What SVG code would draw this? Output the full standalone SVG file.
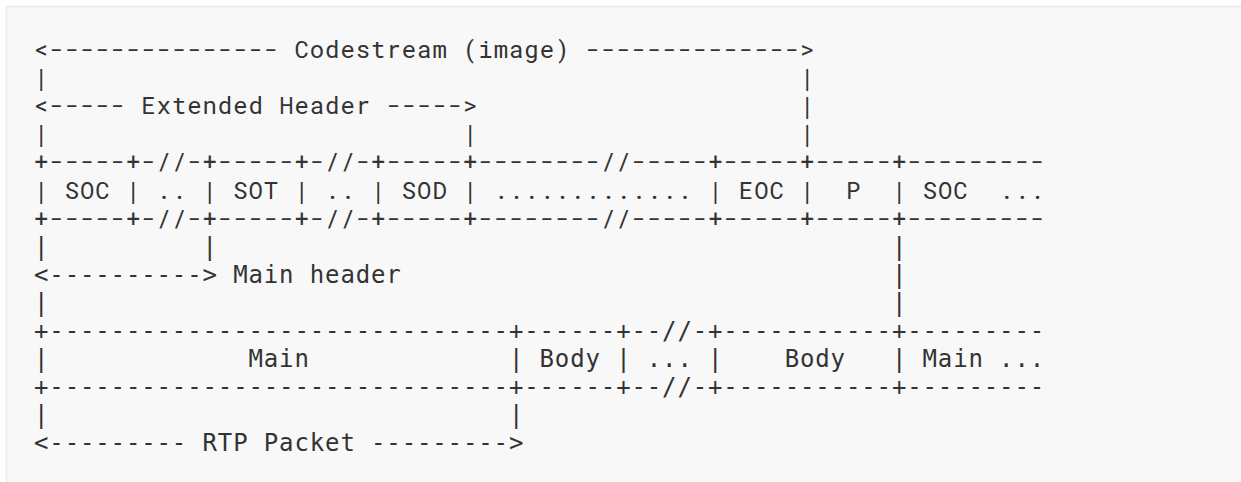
<svg xmlns="http://www.w3.org/2000/svg" width="1241" height="482" viewBox="0 0 1241 482">
  <style>
    .art { font-size: 24px; fill: #333333; white-space: pre; }
    .top { font-family: "Roboto Mono", "DejaVu Sans Mono", "Liberation Mono", monospace; letter-spacing: 0.92px; }
    .low { font-family: "DejaVu Sans Mono", "Liberation Mono", monospace; letter-spacing: 0.87px; }
  </style>
  <rect width="1241" height="482" fill="#ffffff"/>
  <rect x="6.5" y="6.5" width="1250" height="490" fill="#f8f8f8" stroke="#ececec" stroke-width="1.5"/>

  <!-- codestream layout -->
  <g id="codestream" class="art top">
    <text xml:space="preserve" x="34" y="58">&lt;--------------- Codestream (image) --------------&gt;</text>
    <text xml:space="preserve" x="34" y="86.1">|                                                 |</text>
    <text xml:space="preserve" x="34" y="114.2">&lt;----- Extended Header -----&gt;                     |</text>
    <text xml:space="preserve" x="34" y="142.3">|                           |                     |</text>
    <text xml:space="preserve" x="34" y="170.4">+-----+-//-+-----+-//-+-----+--------//-----+-----+-----+---------</text>
    <text xml:space="preserve" x="34" y="198.5">| SOC | .. | SOT | .. | SOD | ............. | EOC |  P  | SOC  ...</text>
    <text xml:space="preserve" x="34" y="226.6">+-----+-//-+-----+-//-+-----+--------//-----+-----+-----+---------</text>
  </g>

  <!-- RTP packetisation -->
  <g id="packets" class="art low">
    <text xml:space="preserve" x="34" y="254.7">|          |                                            |</text>
    <text xml:space="preserve" x="34" y="282.8">&lt;----------&gt; Main header                                |</text>
    <text xml:space="preserve" x="34" y="310.9">|                                                       |</text>
    <text xml:space="preserve" x="34" y="339">+------------------------------+------+--//-+-----------+---------</text>
    <text xml:space="preserve" x="34" y="367.1">|             Main             | Body | ... |    Body   | Main ...</text>
    <text xml:space="preserve" x="34" y="395.2">+------------------------------+------+--//-+-----------+---------</text>
    <text xml:space="preserve" x="34" y="423.3">|                              |</text>
    <text xml:space="preserve" x="34" y="451.4">&lt;--------- RTP Packet ---------&gt;</text>
  </g>
</svg>
